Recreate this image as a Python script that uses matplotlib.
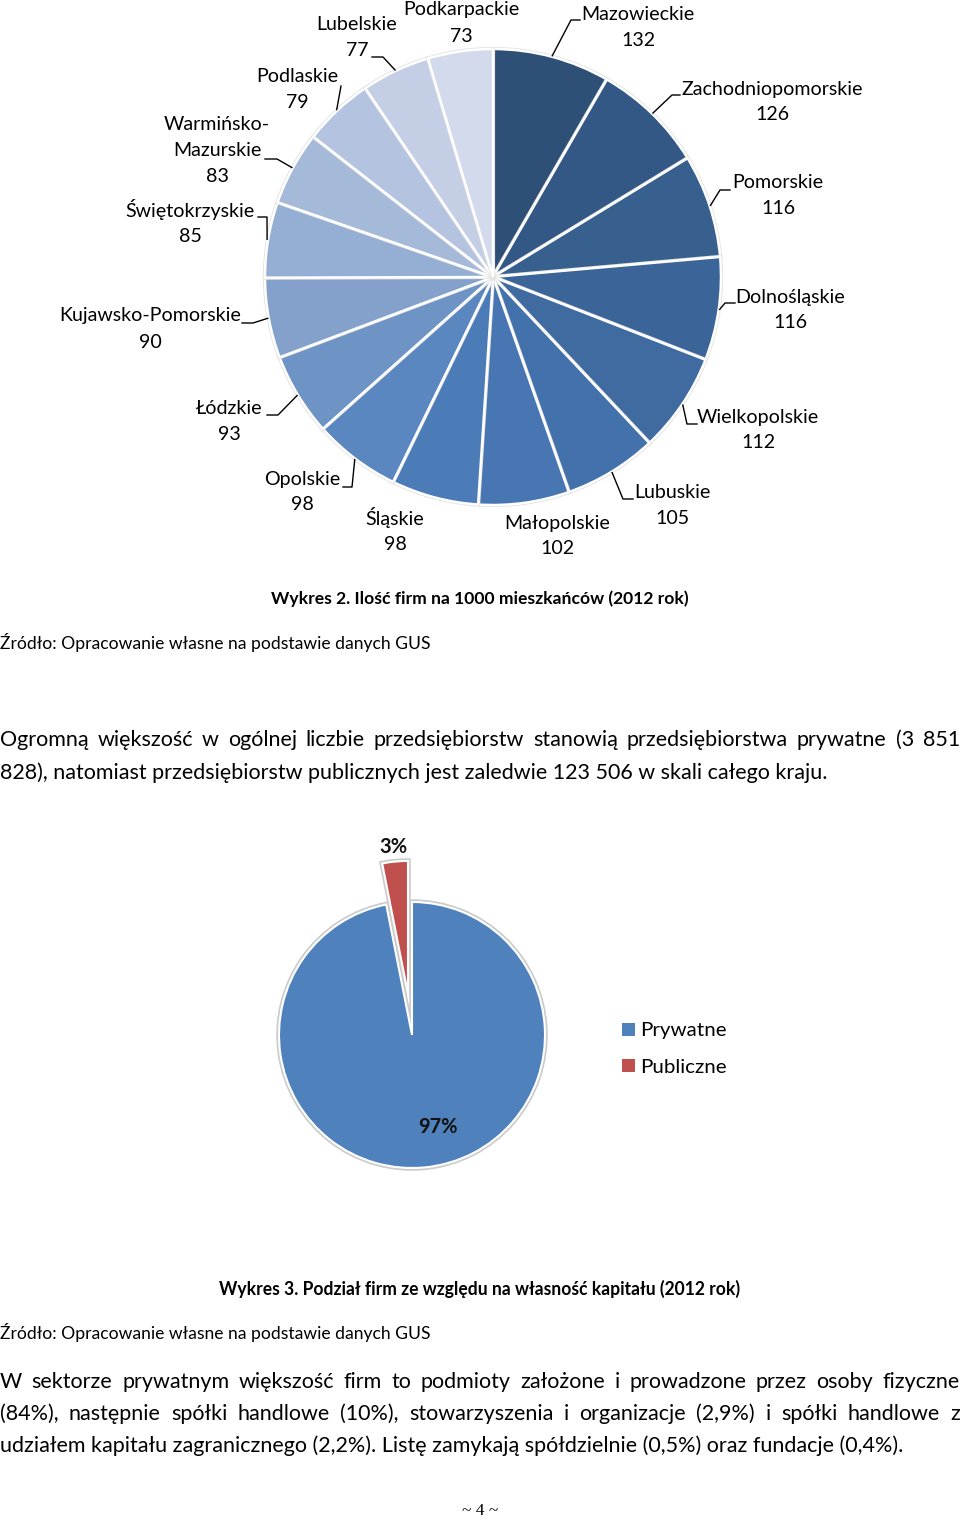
import matplotlib
matplotlib.use("Agg")
import matplotlib.pyplot as plt
import matplotlib.patheffects as pe
from matplotlib.patches import Patch
import numpy as np

plt.rcParams['font.family'] = ['Lato', 'DejaVu Sans']

# --- data ---
regions = ['Mazowieckie', 'Zachodniopomorskie', 'Pomorskie', 'Dolnośląskie',
           'Wielkopolskie', 'Lubuskie', 'Małopolskie', 'Śląskie', 'Opolskie',
           'Łódzkie', 'Kujawsko-Pomorskie', 'Świętokrzyskie',
           'Warmińsko-\nMazurskie', 'Podlaskie', 'Lubelskie', 'Podkarpackie']
firms_per_1000 = [132, 126, 116, 116, 112, 105, 102, 98, 98, 93, 90, 85, 83, 79, 77, 73]

ownership = ['Prywatne', 'Publiczne']
ownership_counts = [3851828, 123506]

caption1 = 'Wykres 2. Ilość firm na 1000 mieszkańców (2012 rok)'
caption2 = 'Wykres 3. Podział firm ze względu na własność kapitału (2012 rok)'
source = 'Źródło: Opracowanie własne na podstawie danych GUS'
para1 = ['Ogromną większość w ogólnej liczbie przedsiębiorstw stanowią przedsiębiorstwa prywatne (3 851',
         '828), natomiast przedsiębiorstw publicznych jest zaledwie 123 506 w skali całego kraju.']
para2 = ['W sektorze prywatnym większość firm to podmioty założone i prowadzone przez osoby fizyczne',
         '(84%), następnie spółki handlowe (10%), stowarzyszenia i organizacje (2,9%) i spółki handlowe z',
         'udziałem kapitału zagranicznego (2,2%). Listę zamykają spółdzielnie (0,5%) oraz fundacje (0,4%).']

# --- layout (pixel coords, y from top) ---
W, H = 960, 1521
def Y(p):
    return H - p

blues = ['#2E5077', '#335886', '#37608F', '#3B6599', '#3F6BA1', '#4371AB', '#4776B2', '#4B7CB8',
         '#5A87BF', '#6E93C5', '#84A1CC', '#95AED3', '#A5B9D9', '#B4C4E0', '#C4CFE6', '#D2DAEB']
own_colors = ['#4F81BD', '#C0504D']

# text centre of the name line, leader elbow, leader end
label_pos = [(638, 15), (772, 89), (778, 183), (790, 297), (758, 417), (672, 492),
             (557, 523), (395, 518), (302, 479), (229, 408), (150, 316), (190, 210),
             (217, 125), (297, 77), (357, 25), (461, 10)]
leaders = [((571, 20), (580, 20)), ((672, 95), (680, 95)), ((720, 190), (730, 190)),
           ((725, 303), (735, 303)), ((687, 424), (697, 424)), ((623, 499), (633, 499)),
           None, None, ((352, 487), (343, 487)), ((278, 415), (267, 415)),
           ((253, 323), (242, 323)), ((267, 217), (258, 217)), ((277, 159), (265, 159)),
           ((341, 86), (341, 86)), ((383, 57), (372, 57)), None]

fig = plt.figure(figsize=(9.6, 15.21), dpi=100)
ax = fig.add_axes([0, 0, 1, 1])
renderer = fig.canvas.get_renderer()


def size_for(s, width, **kw):
    t = ax.text(0, 0, s, fontsize=10, **kw)
    w = t.get_window_extent(renderer).width
    t.remove()
    return 10 * width / w


def justify(words_line, x0, x1, y, fs):
    words = words_line.split(' ')
    ts = [ax.text(0, Y(y), w, fontsize=fs, va='center', ha='left') for w in words]
    widths = [t.get_window_extent(renderer).width for t in ts]
    gap = (x1 - x0 - sum(widths)) / (len(words) - 1)
    x = x0
    for t, w in zip(ts, widths):
        t.set_x(x)
        x += w + gap


lab_fs = size_for('Zachodniopomorskie', 182)

# --- pie 1 ---
c1 = (493, Y(277))
r1 = 228
wedges, _ = ax.pie(firms_per_1000, colors=blues, startangle=90, counterclock=False,
                   radius=r1, center=c1,
                   wedgeprops=dict(edgecolor='white', linewidth=1.8))
for w in wedges:
    w.set_path_effects([pe.withStroke(linewidth=3, foreground='#e2e2e2')])

for w, name, val, (tx, ty), ld in zip(wedges, regions, firms_per_1000, label_pos, leaders):
    lines = name.split('\n') + [str(val)]
    for i, s in enumerate(lines):
        ax.text(tx, Y(ty + 26 * i), s, fontsize=lab_fs, ha='center', va='center')
    if ld is not None:
        th = np.deg2rad((w.theta1 + w.theta2) / 2)
        sx = c1[0] + (r1 + 1) * np.cos(th)
        sy = c1[1] + (r1 + 1) * np.sin(th)
        (ex, ey), (fx, fy) = ld
        ax.plot([sx, ex, fx], [sy, Y(ey), Y(fy)], color='black', lw=1)

cap_fs1 = size_for(caption1, 418, fontweight='bold')
ax.text(271, Y(599), caption1, fontsize=cap_fs1, fontweight='bold', va='center')
src_fs = size_for(source, 428)
ax.text(0, Y(643), source, fontsize=src_fs, va='center')

body_fs = size_for(para1[1], 825)
justify(para1[0], 0, 960, 740, body_fs)
ax.text(0, Y(773), para1[1], fontsize=body_fs, va='center')

# --- pie 2 ---
c2 = (412, Y(1035))
r2 = 133
w2, _ = ax.pie(ownership_counts, colors=own_colors, startangle=90,
               counterclock=False, radius=r2, center=c2, explode=[0, 0.31 * r2],
               wedgeprops=dict(edgecolor='white', linewidth=1.5))
for w in w2:
    w.set_path_effects([pe.withStroke(linewidth=4, foreground='#cccccc')])

pct_fs = size_for('97%', 40, fontweight='bold')
tot = sum(ownership_counts)
# (distance, angle shift) for each percentage label
for w, v, (d, dth) in zip(w2, ownership_counts, [(0.72, 10), (1.11, 0)]):
    th = np.deg2rad((w.theta1 + w.theta2) / 2 + dth)
    px = w.center[0] + d * r2 * np.cos(th)
    py = w.center[1] + d * r2 * np.sin(th)
    ax.text(px, py, f'{round(100 * v / tot)}%', fontsize=pct_fs, fontweight='bold',
            ha='center', va='center', color='#111111')

leg_fs = size_for('Prywatne', 86)
handles = [Patch(facecolor=c, edgecolor='none') for c in own_colors]
ax.legend(handles, ownership, loc='upper left', bbox_to_anchor=(604 / W, 1 - 1004 / H),
          frameon=False, fontsize=leg_fs, handlelength=0.6, handleheight=0.6,
          handletextpad=0.25, labelspacing=0.95)

cap_fs2 = size_for(caption2, 522, fontweight='bold')
ax.text(219, Y(1289), caption2, fontsize=cap_fs2, fontweight='bold', va='center')
ax.text(0, Y(1333), source, fontsize=src_fs, va='center')

justify(para2[0], 0, 960, 1382, body_fs)
justify(para2[1], 0, 960, 1414, body_fs)
ax.text(0, Y(1446), para2[2], fontsize=body_fs, va='center')

ax.text(480, Y(1511), '~ 4 ~', fontsize=12.5, ha='center', va='center',
        family=['Liberation Serif', 'DejaVu Serif'])

ax.set_xlim(0, W)
ax.set_ylim(0, H)
ax.axis('off')

fig.savefig('out.png', dpi=100)
